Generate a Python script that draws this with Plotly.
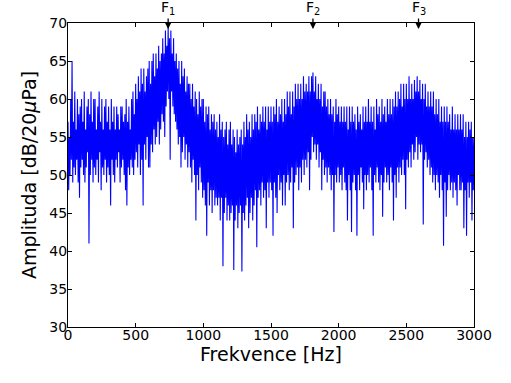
import plotly.graph_objects as go

# Spectrum samples every 5 Hz (dB re 20 uPa)
freq_step = 5
amplitude = [
    57,48, 55,50, 60,52, 65,49, 57,51, 61,50, 56,52, 60,49, 58,47, 59,51,
    60,52, 57,50, 61,49, 56,51, 59,53, 60,41, 58,50, 61,52, 57,49, 60,51,
    60,50, 56,52, 59,49, 61,53, 57,48, 60,51, 56,50, 59,52, 60,49, 57,51,
    59,50, 56,46, 60,52, 57,50, 59,49, 56,52, 59,51, 58,53, 56,49, 59,51,
    59,52, 57,50, 58,48, 60,46, 57,51, 59,50, 56,52, 60,51, 61,50, 58,52,
    62,53, 60,51, 63,54, 61,50, 64,52, 62,46, 64,54, 61,52, 63,55, 64,51,
    65,51, 62,54, 65,53, 66,56, 63,54, 66,55, 64,57, 67,54, 65,56, 66,58,
    68,57, 66,55, 69,59, 67,61, 69.5,60, 68,52, 69,61, 66,59, 68,58, 65,57,
    66,56, 64,54, 65,55, 62,51, 65,53, 63,55, 64,52, 61,54, 63,51, 62,53,
    62,51, 60,49, 62,52, 59,50, 61,44, 60,50, 58,48, 61,51, 59,49, 60,47,
    60,48, 57,46, 59,42, 58,49, 59,46, 56,48, 58,45, 57,48, 58,46, 56,47,
    57,46, 55,47, 58,44, 56,47, 57,38, 55,45, 56,47, 57,44, 54,46, 56,44,
    57,45, 54,46, 56,37.5, 55,44, 53,46, 56,43, 54,45, 55,46, 56,37.3, 54,45,
    57,44, 55,46, 58,47, 56,43, 57,45, 55,47, 58,44, 56,46, 58,48, 57,40.5,
    59,47, 56,48, 58,46, 57,49, 59,47, 57,48, 59,43, 56,49, 59,47, 57,49,
    59,48, 57,42, 59,49, 58,47, 60,45, 57,50, 59,48, 58,49, 60,46, 57,50,
    60,46, 58,49, 61,50, 59,48, 61,49, 58,51, 61,43, 59,49, 62,50, 60,51,
    62,48, 60,51, 62,49, 60,52, 63,50, 61,52, 62,51, 61,53, 63,48, 61,52,
    63,55, 63.5,53, 61,54, 63,52, 60,54, 62,51, 60,53, 62,48, 59,52, 61,50,
    61,51, 59,49, 60,51, 58,50, 60,48, 58,50, 59,42.5, 57,50, 60,49, 58,51,
    59,49, 57,50, 59,48, 57,51, 59,49, 57,48, 59,44, 56,50, 59,48, 57,42.5,
    59,49, 57,50, 58,48, 56,42, 59,50, 57,48, 58,51, 56,49, 59,45.5, 57,50,
    59,48, 57,50, 60,49, 57,51, 59,48, 57,42, 59,50, 56,49, 60,51, 58,49,
    59,48, 57,50, 60,44.5, 58,49, 59,51, 57,49, 60,50, 58,48, 60,51, 58,49,
    60,44, 59,50, 61,47, 59,51, 61,49, 60,51, 62,50, 59,52, 62,50, 60,45.5,
    62,52, 60,51, 63,53, 60,51, 62,54, 60,52, 62.5,53, 61,55, 63,52, 61,54,
    62.5,53, 60,54, 62,43.5, 60,52, 62,53, 59,51, 61,52, 59,50, 61,51, 59,49,
    61,50, 58,48, 60,50, 58,49, 60,47, 57,50, 59,48, 57,40.7, 59,49, 57,44.5,
    59,48, 57,50, 58,48, 56,49, 59,47, 56,49, 58,48, 56,46, 58,50, 56,48,
    58,48, 56,49, 58,43, 55,48, 57,42, 55,49, 57,47, 56,49, 57,44, 55,48,
    55,
]
frequency = [i * freq_step for i in range(len(amplitude))]

formant_freqs = [740, 1810, 2590]
formant_labels = ["F<sub>1</sub>", "F<sub>2</sub>", "F<sub>3</sub>"]

x_ticks = [0, 500, 1000, 1500, 2000, 2500, 3000]
y_ticks = [30, 35, 40, 45, 50, 55, 60, 65, 70]

fig = go.Figure()
fig.add_trace(go.Scatter(x=frequency, y=amplitude, mode="lines",
                         line=dict(color="#0000ff", width=1.1),
                         showlegend=False, hoverinfo="skip"))

for f, lab in zip(formant_freqs, formant_labels):
    fig.add_annotation(x=f, y=69.2, xref="x", yref="y", text=lab,
                       showarrow=True, ax=0, ay=-21, arrowhead=2,
                       arrowsize=1, arrowwidth=1.3, arrowcolor="black",
                       font=dict(size=14, color="black"))

axis_common = dict(showline=True, linecolor="black", linewidth=1, mirror="ticks",
                   ticks="inside", ticklen=4, tickcolor="black", showgrid=False,
                   zeroline=False, tickfont=dict(size=14, color="black"))

fig.update_xaxes(range=[0, 3000], tickvals=x_ticks, ticklabelstandoff=-5,
                 title=dict(text="Frekvence [Hz]", font=dict(size=19, color="black"), standoff=0),
                 **axis_common)
fig.update_yaxes(range=[30, 70], tickvals=y_ticks, ticklabelstandoff=-3,
                 title=dict(text="Amplituda [dB/20<i>μ</i>Pa]", font=dict(size=19, color="black"), standoff=7),
                 **axis_common)

fig.update_layout(width=511, height=383, margin=dict(l=68, r=37, t=23, b=56),
                  paper_bgcolor="white", plot_bgcolor="white",
                  font=dict(family="DejaVu Sans", color="black"))

# remove the default 8px page margin so the figure fills the window exactly
fig.write_html("out.html", config={"displayModeBar": False},
               post_script="document.body.style.margin='0';document.body.style.overflow='hidden';")
